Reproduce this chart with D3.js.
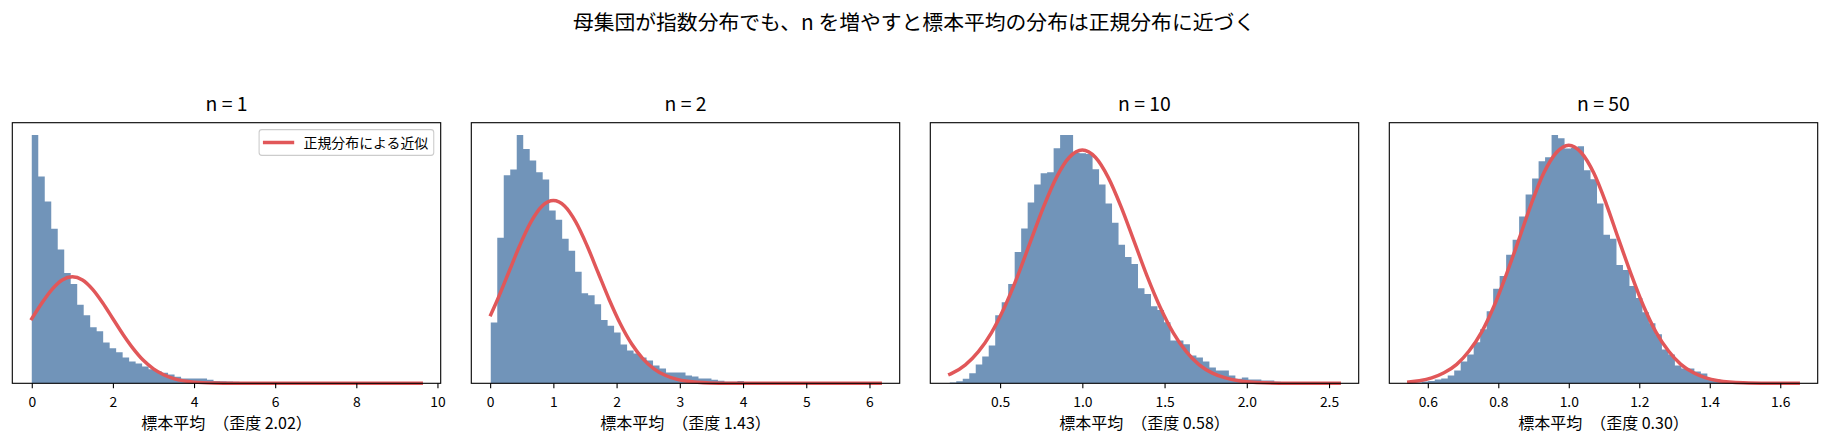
<!DOCTYPE html>
<html>
<head>
<meta charset="utf-8">
<script src="https://cdn.jsdelivr.net/npm/d3@7/dist/d3.min.js"></script>
<style>
body { margin: 0; background: #fff; }
svg { font-family: "Noto Sans CJK JP", "Noto Sans", sans-serif; }
</style>
</head>
<body>
<svg id="chart" width="1828" height="446"></svg>
<script>
// ---- data ----
var mainTitle = '母集団が指数分布でも、n を増やすと標本平均の分布は正規分布に近づく';
var panelTitles = ['n = 1', 'n = 2', 'n = 10', 'n = 50'];
var skewLabels = ['2.02', '1.43', '0.58', '0.30'];
var legendLabel = '正規分布による近似';

// min / max of the sample means in each panel (histogram range, 60 bins)
var sampleRange = [[0.0, 9.6], [0.01, 6.17], [0.194, 2.562], [0.546, 1.651]];

// histogram densities, 60 bins each
var histN1 = [0.930, 0.775, 0.681, 0.579, 0.501, 0.413, 0.372, 0.294, 0.255, 0.210,
	0.195, 0.153, 0.131, 0.116, 0.097, 0.082, 0.074, 0.063, 0.053, 0.045,
	0.040, 0.033, 0.025, 0.018, 0.018, 0.018, 0.018, 0.013, 0.009, 0.008,
	0.007, 0.006, 0.005, 0.004, 0.004, 0.003, 0.003, 0.002, 0.002, 0.001,
	0.001, 0.001, 0.001, 0.0006, 0.0006, 0, 0.0006, 0, 0, 0.0006,
	0, 0, 0, 0, 0, 0, 0, 0, 0, 0.0006];
var histN2 = [0.188, 0.449, 0.642, 0.660, 0.766, 0.723, 0.688, 0.651, 0.629, 0.533,
	0.505, 0.446, 0.409, 0.344, 0.278, 0.272, 0.244, 0.195, 0.178, 0.157,
	0.120, 0.101, 0.092, 0.080, 0.070, 0.055, 0.046, 0.033, 0.033, 0.033,
	0.024, 0.021, 0.015, 0.015, 0.011, 0.008, 0.005, 0.005, 0.007, 0.003,
	0.003, 0.002, 0.002, 0.001, 0.001, 0.001, 0.001, 0, 0.001, 0,
	0.001, 0, 0, 0, 0, 0, 0, 0, 0, 0.001];
var histN10 = [0.005, 0.011, 0.025, 0.054, 0.102, 0.145, 0.205, 0.368, 0.439, 0.537,
	0.711, 0.837, 0.978, 1.076, 1.136, 1.142, 1.272, 1.343, 1.343, 1.247,
	1.245, 1.241, 1.158, 1.076, 0.973, 0.869, 0.750, 0.684, 0.646, 0.515,
	0.483, 0.417, 0.396, 0.330, 0.232, 0.232, 0.211, 0.151, 0.140, 0.118,
	0.085, 0.069, 0.069, 0.042, 0.025, 0.031, 0.020, 0.020, 0.015, 0.015,
	0.009, 0.005, 0.004, 0.003, 0.002, 0.002, 0.001, 0.001, 0, 0.0025];
var histN50 = [0.008, 0.008, 0.020, 0.028, 0.044, 0.056, 0.091, 0.151, 0.258, 0.342,
	0.485, 0.640, 0.854, 1.120, 1.271, 1.522, 1.700, 1.975, 2.237, 2.427,
	2.630, 2.678, 2.940, 2.904, 2.781, 2.789, 2.809, 2.523, 2.416, 2.129,
	1.760, 1.712, 1.402, 1.343, 1.152, 1.009, 0.842, 0.711, 0.580, 0.401,
	0.342, 0.211, 0.175, 0.175, 0.139, 0.115, 0.056, 0.044, 0.032, 0.024,
	0.020, 0.016, 0.012, 0.012, 0.008, 0.004, 0.004, 0.004, 0.002, 0.002];

// red "normal approximation" curves, [x, density] points
var curveN1 = [[0, 0.242], [0.25, 0.301], [0.5, 0.352], [0.75, 0.387], [1.0, 0.399],
	[1.25, 0.387], [1.5, 0.352], [1.75, 0.301], [2.0, 0.242], [2.25, 0.183],
	[2.5, 0.130], [2.75, 0.086], [3.0, 0.054], [3.25, 0.032], [3.5, 0.0175],
	[3.75, 0.009], [4.0, 0.0044], [4.5, 0.0009], [5.0, 0.0001], [5.5, 0], [9.6, 0]];
var curveN2 = [[0.01, 0.212], [0.116, 0.258], [0.293, 0.342], [0.470, 0.426], [0.646, 0.498],
	[0.823, 0.547], [1.0, 0.564], [1.177, 0.547], [1.354, 0.498], [1.530, 0.426],
	[1.707, 0.342], [1.884, 0.258], [2.061, 0.183], [2.237, 0.122], [2.414, 0.0764],
	[2.591, 0.0448], [2.768, 0.0247], [2.945, 0.0129], [3.121, 0.0062], [3.475, 0.0012],
	[3.828, 0.0002], [4.182, 0], [6.17, 0]];
var curveN10 = [[0.194, 0.049], [0.209, 0.055], [0.289, 0.100], [0.368, 0.171], [0.447, 0.273],
	[0.526, 0.410], [0.605, 0.577], [0.684, 0.765], [0.763, 0.952], [0.842, 1.113],
	[0.921, 1.223], [1.0, 1.262], [1.079, 1.223], [1.158, 1.113], [1.237, 0.952],
	[1.316, 0.765], [1.395, 0.577], [1.474, 0.410], [1.553, 0.273], [1.632, 0.171],
	[1.711, 0.100], [1.791, 0.055], [1.870, 0.029], [1.949, 0.014], [2.107, 0.0028],
	[2.265, 0.0004], [2.423, 0], [2.562, 0]];
var curveN50 = [[0.546, 0.016], [0.576, 0.031], [0.611, 0.064], [0.646, 0.124], [0.682, 0.224],
	[0.717, 0.382], [0.753, 0.610], [0.788, 0.916], [0.823, 1.291], [0.859, 1.711],
	[0.894, 2.129], [0.929, 2.490], [0.965, 2.734], [1.0, 2.821], [1.035, 2.734],
	[1.071, 2.490], [1.106, 2.129], [1.141, 1.711], [1.177, 1.291], [1.212, 0.916],
	[1.247, 0.610], [1.283, 0.382], [1.318, 0.224], [1.354, 0.124], [1.389, 0.064],
	[1.424, 0.031], [1.495, 0.0062], [1.566, 0.0009], [1.651, 0.0001]];

var tickValues = [[0, 2, 4, 6, 8, 10], [0, 1, 2, 3, 4, 5, 6],
	[0.5, 1.0, 1.5, 2.0, 2.5], [0.6, 0.8, 1.0, 1.2, 1.4, 1.6]];
var tickLabels = [['0', '2', '4', '6', '8', '10'], ['0', '1', '2', '3', '4', '5', '6'],
	['0.5', '1.0', '1.5', '2.0', '2.5'], ['0.6', '0.8', '1.0', '1.2', '1.4', '1.6']];

var hists = [histN1, histN2, histN10, histN50];
var curves = [curveN1, curveN2, curveN10, curveN50];

// ---- layout ----
var axLeft = 12.3, axTop = 122.7, axW = 428.4, axH = 260.6, gap = 30.6;
var barColor = '#4e79a7', lineColor = '#e15759';

var svg = d3.select('#chart');

svg.append('text')
	.attr('x', 1828 / 2).attr('y', 29.5)
	.attr('text-anchor', 'middle')
	.style('font-size', '20.8px')
	.text(mainTitle);

function drawPanel(p) {
	var x0 = axLeft + p * (axW + gap);
	var lo = sampleRange[p][0], hi = sampleRange[p][1];
	var span = hi - lo;
	var bw = span / hists[p].length;

	var xScale = d3.scaleLinear().domain([lo - 0.05 * span, hi + 0.05 * span]).range([0, axW]);
	var yScale = d3.scaleLinear().domain([0, d3.max(hists[p]) * 1.05]).range([axH, 0]);

	var g = svg.append('g').attr('transform', 'translate(' + x0 + ',' + axTop + ')');

	// bins as steps; last edge repeated so the final bar closes
	var steps = hists[p].map(function(d, k) { return {'x': lo + k * bw, 'val': d}; });
	steps.push({'x': hi, 'val': hists[p][hists[p].length - 1]});

	var area = d3.area()
		.x(function(d) { return xScale(d.x); })
		.y0(yScale(0))
		.y1(function(d) { return yScale(d.val); })
		.curve(d3.curveStepAfter);

	g.append('path').datum(steps)
		.attr('d', area)
		.attr('fill', barColor)
		.attr('fill-opacity', 0.8);

	var line = d3.line()
		.x(function(d) { return xScale(d[0]); })
		.y(function(d) { return yScale(d[1]); })
		.curve(d3.curveMonotoneX);

	g.append('path').datum(curves[p])
		.attr('d', line)
		.attr('fill', 'none')
		.attr('stroke', lineColor)
		.attr('stroke-width', 3.47)
		.attr('stroke-linecap', 'square')
		.attr('stroke-linejoin', 'round');

	// x axis
	var axis = d3.axisBottom(xScale)
		.tickValues(tickValues[p])
		.tickFormat(function(d, i) { return tickLabels[p][i]; })
		.tickSize(4.9);
	var ax = g.append('g').attr('transform', 'translate(0,' + axH + ')').call(axis);
	ax.select('.domain').remove();
	ax.selectAll('.tick line').attr('stroke', '#000').attr('stroke-width', 1.1);
	ax.selectAll('.tick text')
		.attr('dy', null).attr('y', 24)
		.attr('fill', '#000')
		.style('font-size', '13.9px')
		.style('font-family', '"Noto Sans CJK JP", sans-serif');

	// frame
	g.append('rect')
		.attr('width', axW).attr('height', axH)
		.attr('fill', 'none').attr('stroke', '#000').attr('stroke-width', 1.1);

	g.append('text')
		.attr('x', axW / 2).attr('y', -12)
		.attr('text-anchor', 'middle')
		.style('font-size', '19.4px')
		.text(panelTitles[p]);

	g.append('text')
		.attr('x', axW / 2).attr('y', axH + 45.7)
		.attr('text-anchor', 'middle')
		.style('font-size', '16px')
		.text('標本平均　（歪度 ' + skewLabels[p] + '）');

	if (p == 0) drawLegend(g);
}

function drawLegend(g) {
	var fs = 13.9;
	var lg = g.append('g');
	var box = lg.append('rect');
	var txt = lg.append('text')
		.style('font-size', fs + 'px')
		.text(legendLabel);
	var tw = txt.node().getComputedTextLength();
	var bh = 25.7;
	var bwid = 0.4 * fs + 2 * fs + 0.8 * fs + tw + 0.4 * fs;
	var bx = axW - 0.5 * fs - bwid, by = 0.5 * fs;

	box.attr('x', bx).attr('y', by).attr('width', bwid).attr('height', bh)
		.attr('rx', 2.8)
		.attr('fill', '#fff').attr('fill-opacity', 0.8)
		.attr('stroke', '#cccccc').attr('stroke-width', 1.1);
	lg.append('line')
		.attr('x1', bx + 0.4 * fs).attr('x2', bx + 2.4 * fs)
		.attr('y1', by + bh / 2).attr('y2', by + bh / 2)
		.attr('stroke', lineColor).attr('stroke-width', 3.47)
		.attr('stroke-linecap', 'square');
	txt.attr('x', bx + 3.2 * fs).attr('y', by + bh / 2 + 5.2);
}

for (var p = 0; p < 4; p++) drawPanel(p);
</script>
</body>
</html>
